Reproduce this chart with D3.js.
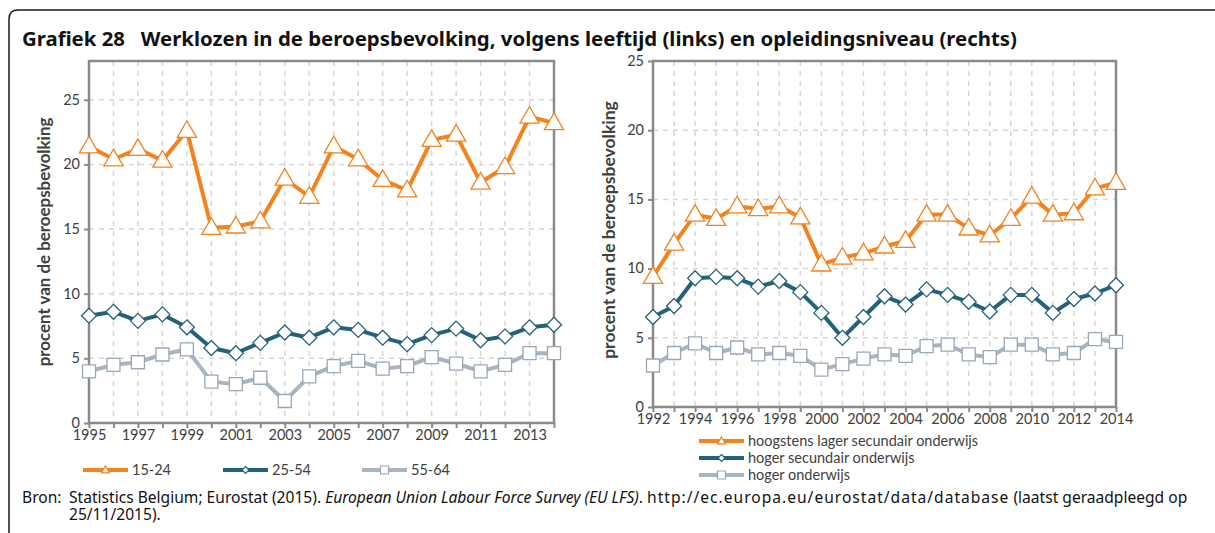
<!DOCTYPE html>
<html>
<head>
<meta charset="utf-8">
<script src="https://cdn.jsdelivr.net/npm/d3@7/dist/d3.min.js"></script>
<style>
  body { margin: 0; background: #fff; }
  svg { display: block; }
</style>
</head>
<body>
<svg width="1215" height="533"></svg>
<script>
// left chart: unemployment by age
var ageYears = [1995, 1996, 1997, 1998, 1999, 2000, 2001, 2002, 2003, 2004,
                2005, 2006, 2007, 2008, 2009, 2010, 2011, 2012, 2013, 2014];
var age1524 = [21.4, 20.4, 21.2, 20.3, 22.6, 15.1, 15.2, 15.6, 18.9, 17.5,
               21.4, 20.4, 18.8, 18.0, 21.9, 22.3, 18.6, 19.8, 23.7, 23.2];
var age2554 = [8.3, 8.6, 7.9, 8.4, 7.4, 5.8, 5.4, 6.2, 7.0, 6.6,
               7.4, 7.2, 6.6, 6.1, 6.8, 7.3, 6.4, 6.7, 7.4, 7.6];
var age5564 = [4.0, 4.5, 4.7, 5.3, 5.7, 3.2, 3.0, 3.5, 1.7, 3.6,
               4.4, 4.8, 4.2, 4.4, 5.1, 4.6, 4.0, 4.5, 5.4, 5.4];
var ageNames = ["15-24", "25-54", "55-64"];
var ageTicksX = [1995, 1997, 1999, 2001, 2003, 2005, 2007, 2009, 2011, 2013];

// right chart: unemployment by education level
var eduYears = [1992, 1993, 1994, 1995, 1996, 1997, 1998, 1999, 2000, 2001, 2002,
                2003, 2004, 2005, 2006, 2007, 2008, 2009, 2010, 2011, 2012, 2013, 2014];
var eduLow = [9.4, 11.8, 13.9, 13.6, 14.5, 14.3, 14.5, 13.7, 10.3, 10.8, 11.1,
              11.6, 12.0, 13.9, 13.9, 12.9, 12.4, 13.6, 15.2, 13.9, 14.0, 15.8, 16.2];
var eduMid = [6.5, 7.3, 9.3, 9.4, 9.3, 8.7, 9.1, 8.3, 6.8, 5.0, 6.5,
              8.0, 7.4, 8.5, 8.1, 7.6, 6.9, 8.1, 8.1, 6.8, 7.8, 8.2, 8.8];
var eduHigh = [3.0, 3.9, 4.6, 3.9, 4.3, 3.8, 3.9, 3.7, 2.7, 3.1, 3.5,
               3.8, 3.7, 4.4, 4.5, 3.8, 3.6, 4.5, 4.5, 3.8, 3.9, 4.9, 4.7];
var eduNames = ["hoogstens lager secundair onderwijs", "hoger secundair onderwijs", "hoger onderwijs"];
var eduTicksX = [1992, 1994, 1996, 1998, 2000, 2002, 2004, 2006, 2008, 2010, 2012, 2014];

var yTicks = [0, 5, 10, 15, 20, 25];

var colors = ["#f3821f", "#24627a", "#a8b4c3"];
var markers = ["triangle", "diamond", "square"];

var svg = d3.select("svg");
var tickFont = "Lato, 'Open Sans', sans-serif";
var textFont = "'Noto Sans', 'DejaVu Sans', sans-serif";

// outer frame
svg.append("path")
    .attr("d", "M9,533 L9,19 Q9,10 18,10 L1215,10")
    .attr("fill", "none")
    .attr("stroke", "#1a1a1a")
    .attr("stroke-width", 1.5);

// title, fitted to the width in the picture
var title = svg.append("text")
    .attr("x", 22).attr("y", 46)
    .attr("font-family", textFont)
    .attr("font-weight", "bold")
    .attr("font-size", 17)
    .attr("fill", "#111")
    .attr("xml:space", "preserve")
    .text("Grafiek 28   Werklozen in de beroepsbevolking, volgens leeftijd (links) en opleidingsniveau (rechts)");
fitWidth(title, 17, 995);

function fitWidth(sel, size, w) {
    var len = sel.node().getComputedTextLength();
    sel.attr("font-size", size * w / len);
}

function markerPath(kind, s) {
    if (kind === "triangle") return d3.symbol(d3.symbolTriangle, s * s * 0.55)();
    if (kind === "diamond") return "M0," + (-s / 2) + "L" + (s / 2) + ",0L0," + (s / 2) + "L" + (-s / 2) + ",0Z";
    return "M" + (-s / 2) + "," + (-s / 2) + "h" + s + "v" + s + "h" + (-s) + "Z";
}

function drawPanel(p) {
    var x = d3.scaleLinear().domain([p.years[0], p.years[p.years.length - 1]]).range([p.left, p.right]);
    var y = d3.scaleLinear().domain([0, p.yMax]).range([p.bottom, p.top]);
    var g = svg.append("g");

    // dashed gridlines
    g.selectAll(".vgrid").data(p.years.slice(1, -1)).enter().append("line")
        .attr("x1", x).attr("x2", x)
        .attr("y1", p.top).attr("y2", p.bottom)
        .attr("stroke", "#d6d6d6").attr("stroke-width", 1.5)
        .attr("stroke-dasharray", "5,5");
    g.selectAll(".hgrid").data(yTicks.slice(1).filter(function (d) { return y(d) > p.top + 1; })).enter().append("line")
        .attr("x1", p.left).attr("x2", p.right)
        .attr("y1", y).attr("y2", y)
        .attr("stroke", "#d6d6d6").attr("stroke-width", 1.5)
        .attr("stroke-dasharray", "5,5");

    // plot frame
    g.append("rect")
        .attr("x", p.left).attr("y", p.top)
        .attr("width", p.right - p.left).attr("height", p.bottom - p.top)
        .attr("fill", "none").attr("stroke", "#8a8a8a").attr("stroke-width", 2.5);

    // axes
    var xAxis = d3.axisBottom(x).tickValues(p.years).tickSize(5).tickFormat(function (d) {
        return p.xTicks.indexOf(d) >= 0 ? d : "";
    });
    var ax = g.append("g").attr("transform", "translate(0," + p.bottom + ")").call(xAxis);
    var yAxis = d3.axisLeft(y).tickValues(yTicks).tickSize(5).tickFormat(d3.format("d"));
    var ay = g.append("g").attr("transform", "translate(" + p.left + ",0)").call(yAxis);
    [ax, ay].forEach(function (a) {
        a.select(".domain").remove();
        a.selectAll(".tick line").attr("stroke", "#8a8a8a").attr("stroke-width", 2);
        a.selectAll("text").attr("font-family", tickFont).attr("font-size", 14.5).attr("fill", "#404040");
    });
    ax.selectAll("text").attr("dy", "0.95em").attr("y", 3);
    ay.selectAll("text").attr("x", -9).attr("dy", "0.3em");

    // axis title
    var at = g.append("text")
        .attr("transform", "translate(" + p.titleX + "," + p.titleY + ") rotate(-90)")
        .attr("text-anchor", "middle")
        .attr("font-family", tickFont).attr("font-weight", "bold")
        .attr("font-size", 14).attr("fill", "#404040")
        .text("procent van de beroepsbevolking");
    fitWidth(at, 14, p.titleW);

    // series
    var line = d3.line().x(function (d) { return x(d[0]); }).y(function (d) { return y(d[1]); });
    p.series.forEach(function (vals, i) {
        var pts = p.years.map(function (yr, j) { return [yr, vals[j]]; });
        g.append("path").datum(pts)
            .attr("d", line)
            .attr("fill", "none").attr("stroke", colors[i]).attr("stroke-width", 4)
            .attr("stroke-linejoin", "round");
    });
    p.series.forEach(function (vals, i) {
        var pts = p.years.map(function (yr, j) { return [yr, vals[j]]; });
        var s = [17, 15, 13][i];
        g.selectAll(".m" + i).data(pts).enter().append("path")
            .attr("transform", function (d) { return "translate(" + x(d[0]) + "," + (y(d[1]) + (i === 0 ? 1 : 0)) + ")"; })
            .attr("d", markerPath(markers[i], s))
            .attr("fill", "#fff")
            .attr("stroke", i === 2 ? "#9aa7b7" : colors[i])
            .attr("stroke-width", 1.3);
    });
}

drawPanel({
    years: ageYears, xTicks: ageTicksX, series: [age1524, age2554, age5564],
    yMax: 28, left: 89, right: 554, top: 61, bottom: 423,
    titleX: 50, titleY: 242, titleW: 249
});
drawPanel({
    years: eduYears, xTicks: eduTicksX, series: [eduLow, eduMid, eduHigh],
    yMax: 25, left: 653, right: 1116, top: 61, bottom: 407,
    titleX: 615, titleY: 230, titleW: 258
});

// legends
function legendItem(lx, ly, i, label, ms) {
    var g = svg.append("g");
    g.append("line").attr("x1", lx).attr("x2", lx + 45).attr("y1", ly).attr("y2", ly)
        .attr("stroke", colors[i]).attr("stroke-width", 4);
    g.append("path").attr("transform", "translate(" + (lx + 22.5) + "," + (ly + (i === 0 ? 0.5 : 0)) + ")")
        .attr("d", markerPath(markers[i], ms))
        .attr("fill", "#fff").attr("stroke", i === 2 ? "#9aa7b7" : colors[i]).attr("stroke-width", 1.2);
    g.append("text").attr("x", lx + 49).attr("y", ly).attr("dy", "0.35em")
        .attr("font-family", tickFont).attr("font-size", 14.5).attr("fill", "#404040")
        .text(label);
}
var ageLegendX = [83, 223, 362];
ageNames.forEach(function (n, i) { legendItem(ageLegendX[i], 470, i, n, [7, 7, 8][i]); });
var eduLegendY = [441, 458, 475];
eduNames.forEach(function (n, i) { legendItem(699, eduLegendY[i], i, n, [7, 7, 8][i]); });

// source
var src = svg.append("text").attr("x", 69).attr("y", 503)
    .attr("font-family", textFont).attr("font-size", 13).attr("fill", "#111");
src.append("tspan").text("Statistics Belgium; Eurostat (2015). ");
src.append("tspan").attr("font-style", "italic").text("European Union Labour Force Survey (EU LFS)");
src.append("tspan").text(". ");
src.append("tspan").attr("letter-spacing", 1).text("http://ec.europa.eu/eurostat/data/database");
src.append("tspan").text(" (laatst geraadpleegd op");
fitWidth(src, 13, 1128);
svg.append("text").attr("x", 22).attr("y", 503)
    .attr("font-family", textFont).attr("font-size", src.attr("font-size")).attr("fill", "#111")
    .text("Bron:");
svg.append("text").attr("x", 69).attr("y", 520)
    .attr("font-family", textFont).attr("font-size", src.attr("font-size")).attr("fill", "#111")
    .text("25/11/2015).");
</script>
</body>
</html>
